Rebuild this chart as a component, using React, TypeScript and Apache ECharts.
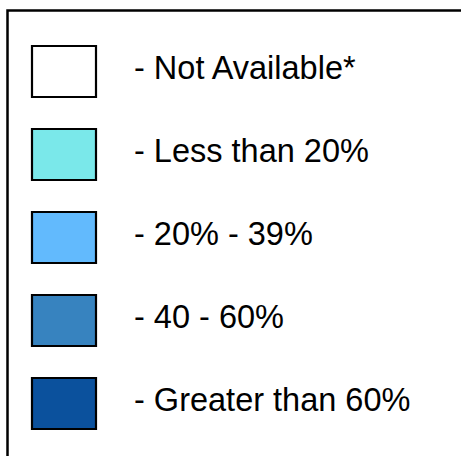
import React, { useEffect, useRef } from "react";
import * as echarts from "echarts";

// Legend categories and their fill colours
const categories: string[] = [
  "Not Available*",
  "Less than 20%",
  "20% - 39%",
  "40 - 60%",
  "Greater than 60%",
];
const colors: string[] = ["#ffffff", "#7ae8ea", "#62bafd", "#3783bf", "#0b519d"];

// Layout constants
const BOX_X = 31;
const BOX_W = 66;
const BOX_H = 53;
const FIRST_TOP = 45;
const STEP = 83;
const TEXT_X = 134;
const FONT_SIZE = 32.5;
const FONT = "Liberation Sans, Arial, Helvetica, sans-serif";

export default function App() {
  const ref = useRef<HTMLDivElement>(null);
  useEffect(() => {
    if (!ref.current) return;
    const chart = echarts.init(ref.current, undefined, { renderer: "svg" });
    const elements: any[] = [];
    // outer frame: only its left and top edges lie within the visible area
    elements.push({
      type: "polyline",
      shape: { points: [[7.5, 480], [7.5, 10.5], [480, 10.5]] },
      style: { fill: "none", stroke: "#000", lineWidth: 2.5 },
      silent: true,
    });
    categories.forEach((name, i) => {
      const top = FIRST_TOP + i * STEP;
      elements.push({
        type: "rect",
        shape: { x: BOX_X + 1, y: top + 1, width: BOX_W - 2, height: BOX_H - 2 },
        style: { fill: colors[i], stroke: "#000", lineWidth: 2.2 },
      });
      elements.push({
        type: "text",
        x: TEXT_X,
        y: top + BOX_H / 2 - 4,
        style: {
          text: "- " + name,
          fontSize: FONT_SIZE,
          fontFamily: FONT,
          fill: "#000",
          verticalAlign: "middle",
          align: "left",
        },
      });
    });
    chart.setOption({
      animation: false,
      backgroundColor: "#ffffff",
      graphic: { elements },
    });
    return () => chart.dispose();
  }, []);
  return (
    <div
      ref={ref}
      style={{ position: "fixed", left: 0, top: 0, width: 461, height: 456 }}
    />
  );
}
